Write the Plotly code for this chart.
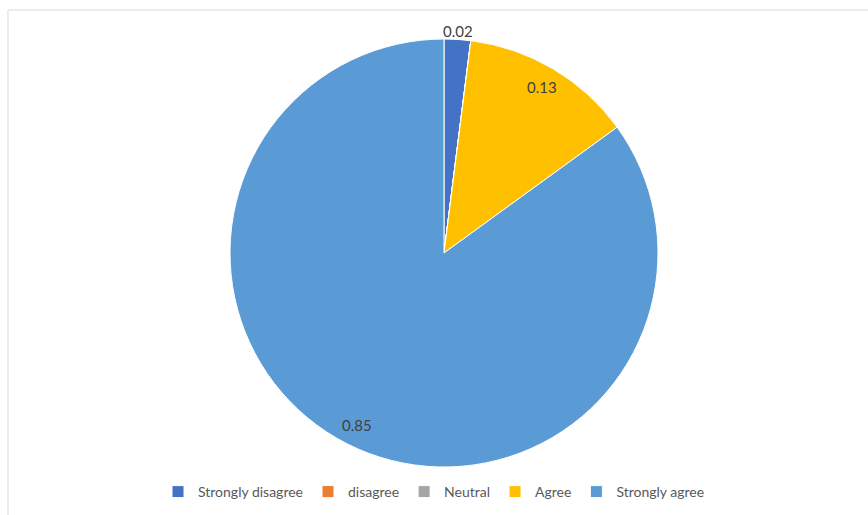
import math
import plotly.graph_objects as go

categories = ["Strongly disagree", "disagree", "Neutral", "Agree", "Strongly agree"]
values = [0.02, 0, 0, 0.13, 0.85]
colors = ["#4472C4", "#ED7D31", "#A5A5A5", "#FFC000", "#5B9BD5"]
value_labels = ["0.02", "", "", "0.13", "0.85"]

W, H = 868, 515
cx_px, cy_px, R = 444, 253, 214

fig = go.Figure(go.Pie(
    labels=categories,
    values=values,
    marker=dict(colors=colors, line=dict(color="white", width=1)),
    sort=False,
    direction="clockwise",
    rotation=0,
    textinfo="none",
    hoverinfo="label+value",
    domain=dict(x=[(cx_px - R) / W, (cx_px + R) / W],
                y=[(H - cy_px - R) / H, (H - cy_px + R) / H]),
))

# data labels placed at each slice's mid-angle
total = sum(values)
cum = 0.0
annotations = []
for v, lab in zip(values, value_labels):
    mid = (cum + v / 2) / total * 2 * math.pi
    cum += v
    if not lab:
        continue
    frac = v / total
    r = R * 1.04 if frac < 0.05 else R * 0.9
    x = (cx_px + r * math.sin(mid)) / W
    y = (H - cy_px + r * math.cos(mid)) / H
    annotations.append(dict(x=x, y=y, xref="paper", yref="paper", text=lab,
                            showarrow=False, xanchor="center", yanchor="middle",
                            font=dict(size=15, color="#404040", family="Lato")))

fig.update_layout(
    width=W, height=H,
    margin=dict(l=0, r=0, t=0, b=0),
    paper_bgcolor="white",
    plot_bgcolor="white",
    annotations=annotations,
    showlegend=True,
    legend=dict(orientation="h", x=0.5, xanchor="center", y=(H - 492) / H,
                yanchor="middle", itemwidth=30, traceorder="normal",
                font=dict(size=14, color="#595959", family="Lato")),
    shapes=[dict(type="rect", xref="paper", yref="paper",
                 x0=8 / W, x1=1.01, y0=-0.01, y1=1 - 10 / H,
                 line=dict(color="#D9D9D9", width=1))],
)

fig.write_html("out.html", config={"displayModeBar": False},
               post_script="document.body.style.margin='0';")
